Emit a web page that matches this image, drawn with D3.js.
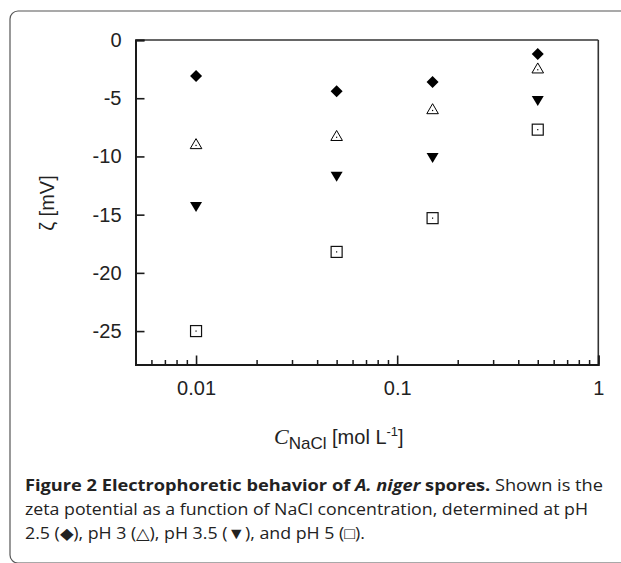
<!DOCTYPE html>
<html>
<head>
<meta charset="utf-8">
<script src="https://cdn.jsdelivr.net/npm/d3@7"></script>
<style>
  html, body { margin: 0; padding: 0; background: #fff; }
  svg { display: block; }
</style>
</head>
<body>
<script>
// NaCl concentrations (mol/L) and zeta potentials (mV) for each pH
const concentrations = [0.01, 0.05, 0.15, 0.5];
const zetaPH25 = [-3.1, -4.4, -3.6, -1.2];
const zetaPH3  = [-8.9, -8.2, -5.9, -2.4];
const zetaPH35 = [-14.3, -11.7, -10.1, -5.2];
const zetaPH5  = [-25.0, -18.2, -15.3, -7.7];
const xTickValues = [0.01, 0.1, 1];
const xTickLabels = ["0.01", "0.1", "1"];
const yTickValues = [0, -5, -10, -15, -20, -25];

const W = 621, H = 563;
const svg = d3.select("body").append("svg").attr("width", W).attr("height", H);

// outer panel border with rounded corners
svg.append("rect")
  .attr("x", 10).attr("y", 11).attr("width", 700).attr("height", 552)
  .attr("rx", 8).attr("ry", 8)
  .attr("fill", "none").attr("stroke", "#555").attr("stroke-width", 1.2);

const plot = { left: 135.5, right: 598.3, top: 40, bottom: 364.5 };

const x = d3.scaleLog().domain([0.005, 1]).range([plot.left, plot.right]);
const y = d3.scaleLinear().domain([-27.87, 0]).range([plot.bottom, plot.top]);

const axisColor = "#1a1a1a";
const labelFont = "'Liberation Sans', Arial, Helvetica, sans-serif";

// frame: top and right thinner, left and bottom heavier
svg.append("line").attr("x1", plot.left).attr("x2", plot.right)
  .attr("y1", plot.top).attr("y2", plot.top)
  .attr("stroke", "#333").attr("stroke-width", 1.6);
svg.append("line").attr("x1", plot.right).attr("x2", plot.right)
  .attr("y1", plot.top).attr("y2", plot.bottom)
  .attr("stroke", "#333").attr("stroke-width", 1.6);

// y axis with inward ticks
const yAxis = d3.axisLeft(y).tickValues(yTickValues).tickSize(-9).tickPadding(14)
  .tickFormat(d3.format("d"));
const gy = svg.append("g").attr("transform", `translate(${plot.left},0)`).call(yAxis);
gy.select(".domain").attr("stroke", axisColor).attr("stroke-width", 2);
gy.selectAll(".tick line").attr("stroke", axisColor).attr("stroke-width", 1.6);
gy.selectAll(".tick text")
  .attr("font-family", labelFont).attr("font-size", 20).attr("fill", "#222")
  .text(d => d === 0 ? "0" : String(d));

// x axis: minor ticks for every value in each decade, major ticks at decades
const minorValues = [];
[0.001, 0.01, 0.1].forEach(dec => {
  for (let k = 2; k <= 9; k++) {
    const v = dec * k;
    if (v >= 0.005 && v <= 1) minorValues.push(v);
  }
});
const xMinor = d3.axisBottom(x).tickValues(minorValues).tickSize(-4.5).tickFormat("");
const gxm = svg.append("g").attr("transform", `translate(0,${plot.bottom})`).call(xMinor);
gxm.select(".domain").remove();
gxm.selectAll(".tick line").attr("stroke", axisColor).attr("stroke-width", 1.5);

const xAxis = d3.axisBottom(x).tickValues(xTickValues).tickSize(-9).tickPadding(16)
  .tickFormat((d, i) => xTickLabels[i]);
const gx = svg.append("g").attr("transform", `translate(0,${plot.bottom})`).call(xAxis);
gx.select(".domain").attr("stroke", axisColor).attr("stroke-width", 2);
gx.selectAll(".tick line").attr("stroke", axisColor).attr("stroke-width", 1.6);
gx.selectAll(".tick text")
  .attr("font-family", labelFont).attr("font-size", 20).attr("fill", "#222");

// markers
const series = [
  { values: zetaPH25, shape: "diamond" },
  { values: zetaPH3, shape: "up" },
  { values: zetaPH35, shape: "down" },
  { values: zetaPH5, shape: "square" }
];

function drawMarker(g, shape) {
  if (shape === "diamond") {
    g.append("path").attr("d", "M0,-6 L6,0 L0,6 L-6,0 Z").attr("fill", "#000");
  } else if (shape === "down") {
    g.append("path").attr("d", "M-6,-4.5 L6,-4.5 L0,5.5 Z").attr("fill", "#000");
  } else if (shape === "up") {
    g.append("path").attr("d", "M0,-5 L5.8,5 L-5.8,5 Z")
      .attr("fill", "#fff").attr("stroke", "#000").attr("stroke-width", 1);
    g.append("rect").attr("x", -0.6).attr("y", 1.2).attr("width", 1.2).attr("height", 1.2).attr("fill", "#000");
  } else if (shape === "square") {
    g.append("rect").attr("x", -5.5).attr("y", -5.5).attr("width", 11).attr("height", 11)
      .attr("fill", "#fff").attr("stroke", "#111").attr("stroke-width", 1.2);
    g.append("rect").attr("x", -0.6).attr("y", -0.6).attr("width", 1.2).attr("height", 1.2).attr("fill", "#000");
  }
}

series.forEach(s => {
  svg.append("g").selectAll("g")
    .data(concentrations.map((c, i) => ({ c, v: s.values[i] })))
    .join("g")
    .attr("transform", d => `translate(${x(d.c)},${y(d.v)})`)
    .each(function () { drawMarker(d3.select(this), s.shape); });
});

// y axis title
svg.append("text")
  .attr("transform", "translate(54,203) rotate(-90)")
  .attr("text-anchor", "middle")
  .attr("font-family", labelFont).attr("font-size", 20).attr("fill", "#222")
  .text("ζ [mV]");

// x axis title: C (italic) with NaCl subscript and unit with superscript
const xt = svg.append("text")
  .attr("x", 274).attr("y", 444)
  .attr("font-family", labelFont).attr("font-size", 20).attr("fill", "#222");
xt.append("tspan").attr("font-family", "'Liberation Serif', 'Times New Roman', serif")
  .attr("font-style", "italic").attr("font-size", 22).text("C");
xt.append("tspan").attr("font-size", 17).attr("dy", 5).text("NaCl");
xt.append("tspan").attr("dy", -5).text(" [mol L");
xt.append("tspan").attr("font-size", 13).attr("dy", -8).text("-1");
xt.append("tspan").attr("dy", 8).text("]");

// caption
const capFont = "'Open Sans', 'Noto Sans', sans-serif";
const cap1 = svg.append("text").attr("x", 25).attr("y", 491)
  .attr("font-family", capFont).attr("font-size", 16).attr("fill", "#222")
  .attr("textLength", 578).attr("lengthAdjust", "spacingAndGlyphs");
cap1.append("tspan").attr("font-weight", "bold").text("Figure 2 Electrophoretic behavior of ");
cap1.append("tspan").attr("font-weight", "bold").attr("font-style", "italic").text("A. niger");
cap1.append("tspan").attr("font-weight", "bold").text(" spores.");
cap1.append("tspan").text(" Shown is the");

svg.append("text").attr("x", 25).attr("y", 515)
  .attr("font-family", capFont).attr("font-size", 16).attr("fill", "#222")
  .attr("textLength", 563).attr("lengthAdjust", "spacingAndGlyphs")
  .text("zeta potential as a function of NaCl concentration, determined at pH");

svg.append("text").attr("x", 25).attr("y", 539)
  .attr("font-family", capFont).attr("font-size", 16).attr("fill", "#222")
  .attr("textLength", 340).attr("lengthAdjust", "spacingAndGlyphs")
  .text("2.5 (◆), pH 3 (△), pH 3.5 (▼), and pH 5 (□).");
</script>
</body>
</html>
